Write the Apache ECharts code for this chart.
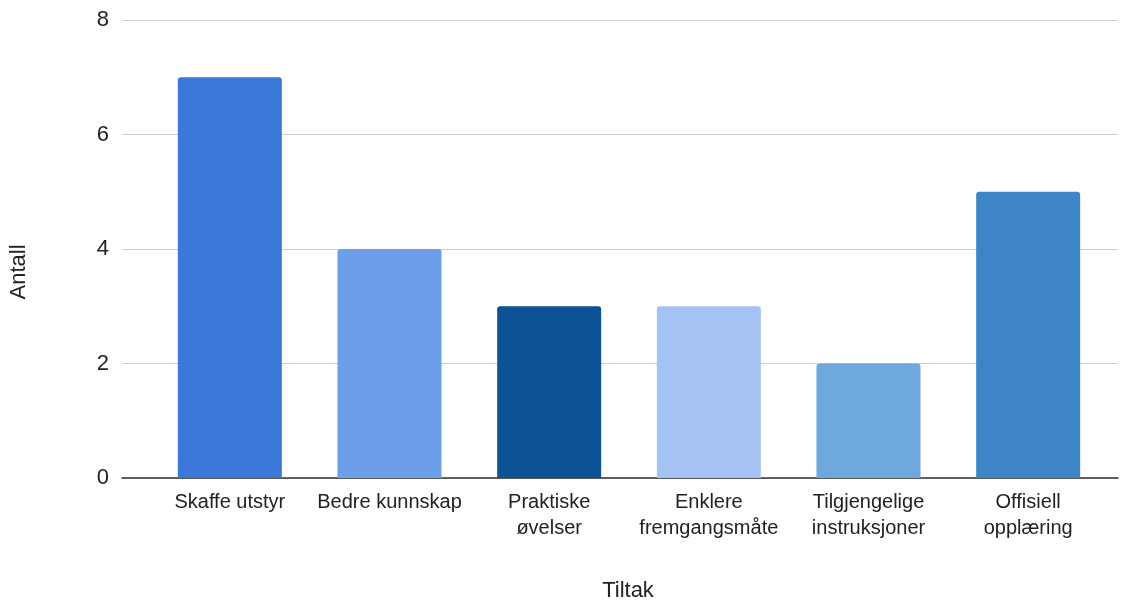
<!DOCTYPE html>
<html>
<head>
<meta charset="utf-8">
<script src="https://cdn.jsdelivr.net/npm/echarts@6/dist/echarts.min.js"></script>
<style>
  html, body { margin: 0; padding: 0; background: #fff; }
  #main { width: 1130px; height: 601px; }
</style>
</head>
<body>
<div id="main"></div>
<script>
const categories = [
  "Skaffe utstyr",
  "Bedre kunnskap",
  "Praktiske\nøvelser",
  "Enklere\nfremgangsmåte",
  "Tilgjengelige\ninstruksjoner",
  "Offisiell\nopplæring"
];
const values = [7, 4, 3, 3, 2, 5];
const barColors = ["#3c78d8", "#6d9eeb", "#0b5394", "#a4c2f4", "#6fa8dc", "#3d85c6"];
const yTicks = [0, 2, 4, 6, 8];

const chart = echarts.init(document.getElementById("main"));
const font = "Liberation Sans, Arial, sans-serif";

const option = {
  animation: false,
  textStyle: { fontFamily: font },
  grid: [
    // background grid: gridlines + baseline
    { left: 122, right: 12, top: 20, bottom: 123, containLabel: false, outerBoundsMode: "none" },
    // bars
    { left: 150, right: 22, top: 20, bottom: 123, containLabel: false, outerBoundsMode: "none" }
  ],
  xAxis: [
    {
      gridIndex: 0,
      type: "value",
      min: 0,
      max: 1,
      axisLabel: { show: false },
      axisTick: { show: false },
      splitLine: { show: false },
      axisLine: { show: true, onZero: false, lineStyle: { color: "#333", width: 1.5 } },
      name: "Tiltak",
      nameLocation: "middle",
      nameGap: 102,
      nameTextStyle: { fontSize: 22, color: "#222", fontFamily: font, padding: [0, 0, 0, 16] }
    },
    {
      gridIndex: 1,
      type: "category",
      data: categories,
      axisLine: { show: false },
      axisTick: { show: false },
      axisLabel: {
        interval: 0,
        margin: 11,
        fontSize: 20,
        lineHeight: 26,
        color: "#222",
        fontFamily: font
      }
    }
  ],
  yAxis: [
    {
      gridIndex: 0,
      type: "value",
      min: 0,
      max: 8,
      interval: 2,
      axisLine: { show: false },
      axisTick: { show: false },
      axisLabel: {
        margin: 13,
        fontSize: 22,
        color: "#222",
        fontFamily: font,
        padding: [4, 0, 0, 0],
        formatter: v => (yTicks.includes(v) ? String(v) : "")
      },
      splitLine: { show: true, lineStyle: { color: "#cccccc", width: 1.2 } },
      name: "Antall",
      nameLocation: "middle",
      nameGap: 92,
      nameRotate: 90,
      nameTextStyle: { fontSize: 22, color: "#222", fontFamily: font, padding: [0, 0, 0, -46] }
    },
    {
      gridIndex: 1,
      type: "value",
      min: 0,
      max: 8,
      interval: 2,
      show: false,
      splitLine: { show: false }
    }
  ],
  series: [
    {
      type: "bar",
      xAxisIndex: 1,
      yAxisIndex: 1,
      barWidth: 104,
      data: values.map((v, i) => ({
        value: v,
        itemStyle: { color: barColors[i], borderRadius: [3, 3, 0, 0] }
      }))
    }
  ]
};

chart.setOption(option);
</script>
</body>
</html>
